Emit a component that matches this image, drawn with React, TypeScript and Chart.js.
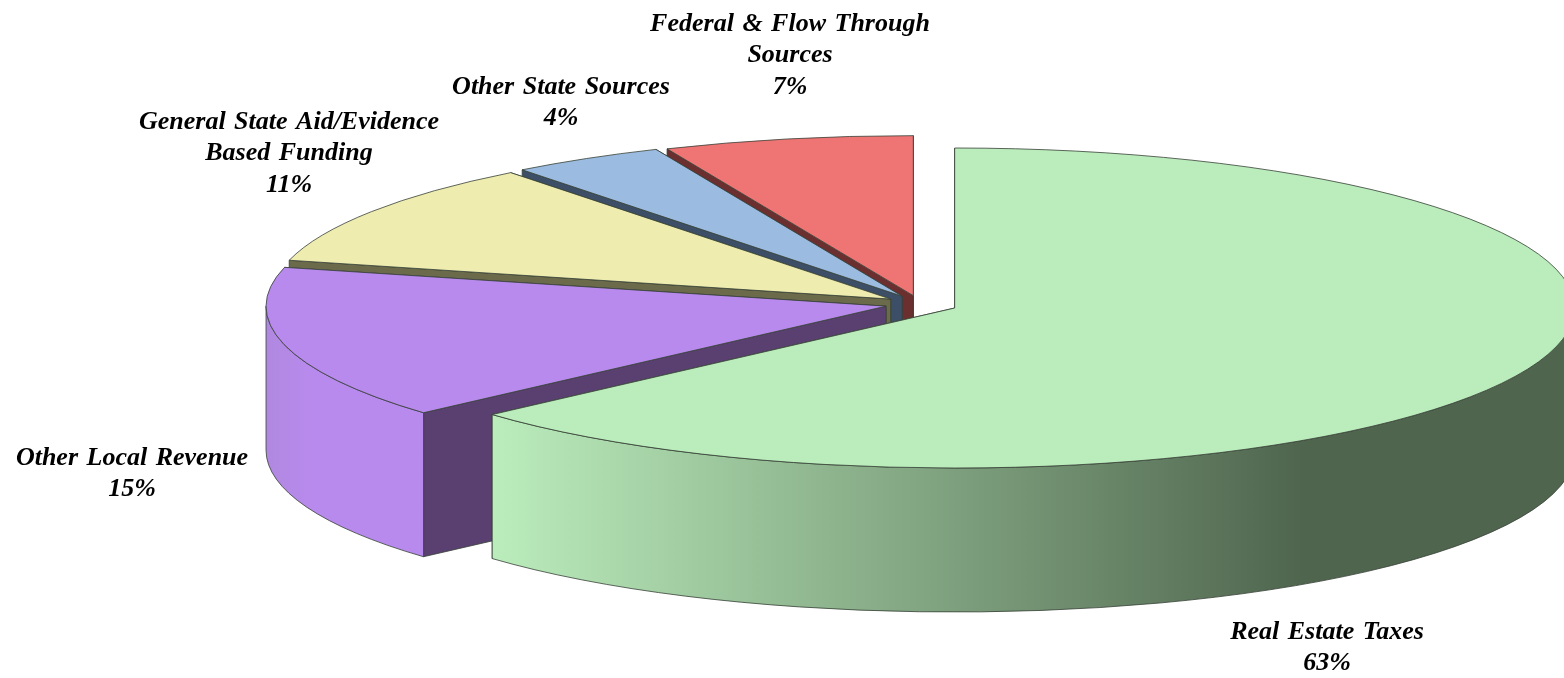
import React, { useEffect, useRef } from "react";
import { Chart, registerables } from "chart.js";

Chart.register(...registerables);

const categories = ["Real Estate Taxes", "Other Local Revenue", "General State Aid/Evidence Based Funding", "Other State Sources", "Federal & Flow Through Sources"];
const values = [63.4, 15.5, 10.6, 4, 6.5];
const printedPercents = ["63%", "15%", "11%", "4%", "7%"];
const topColors = ["#bbedbc", "#b88aed", "#eeecaf", "#9bbce0", "#ef7575"];
const sideColors = ["#4f654e", "#5a4070", "#6b6a4a", "#3d4f66", "#6b2f2f"];
const labelLines = [["Real Estate Taxes"], ["Other Local Revenue"], ["General State Aid/Evidence", "Based Funding"], ["Other State Sources"], ["Federal & Flow Through", "Sources"]];
const labelAnchors = [[1327, 632], [132, 458], [289, 122], [561, 87], [790, 24]];

const CX = 920, CY = 304, RX = 620, RY = 160, DEPTH = 144;
const EXPLODE = [38, 35, 35, 35, 33];
const OUTLINE = "rgba(55,65,55,0.8)";

const pie3d = {
  id: "pie3d",
  beforeDatasetDraw(chart: any) {
    const ctx = chart.ctx;
    const arcs = chart.getDatasetMeta(0).data;
    const order = [4, 3, 2, 1, 0];
    for (const i of order) {
      const el = arcs[i];
      const sx = RX / el.outerRadius, sy = RY / el.outerRadius;
      const a0 = el.startAngle, a1 = el.endAngle, mid = (a0 + a1) / 2;
      const vx = CX + Math.cos(mid) * EXPLODE[i];
      const vy = CY + Math.sin(mid) * EXPLODE[i] * (RY / RX);
      const px = (a: number) => vx + Math.cos(a) * RX;
      const py = (a: number) => vy + Math.sin(a) * RY;
      ctx.save();
      ctx.lineWidth = 1;
      ctx.strokeStyle = OUTLINE;
      // cut faces: the hidden one first, the one facing the viewer on top of it
      for (const a of [a1, a0]) {
        ctx.beginPath();
        ctx.moveTo(vx, vy);
        ctx.lineTo(px(a), py(a));
        ctx.lineTo(px(a), py(a) + DEPTH);
        ctx.lineTo(vx, vy + DEPTH);
        ctx.closePath();
        ctx.fillStyle = sideColors[i];
        ctx.fill();
        ctx.stroke();
      }
      // outer wall, front half only
      const w0 = Math.max(a0, 0), w1 = Math.min(a1, Math.PI);
      if (w1 > w0) {
        ctx.beginPath();
        ctx.ellipse(vx, vy, RX, RY, 0, w0, w1, false);
        ctx.ellipse(vx, vy + DEPTH, RX, RY, 0, w1, w0, true);
        ctx.closePath();
        if (i === 0) {
          const g = ctx.createLinearGradient(px(a1), 0, px(0), 0);
          g.addColorStop(0, topColors[0]);
          g.addColorStop(0.75, sideColors[0]);
          g.addColorStop(1, sideColors[0]);
          ctx.fillStyle = g;
        } else {
          const g = ctx.createLinearGradient(px(Math.PI), 0, px(a0), 0);
          g.addColorStop(0, "#b088e0");
          g.addColorStop(0.3, topColors[i]);
          g.addColorStop(1, topColors[i]);
          ctx.fillStyle = g;
        }
        ctx.fill();
        ctx.stroke();
      }
      // top face through the library's own arc drawing
      ctx.save();
      ctx.translate(vx, vy);
      ctx.scale(sx, sy);
      ctx.translate(-el.x, -el.y);
      el.draw(ctx);
      ctx.restore();
      // outline
      ctx.beginPath();
      ctx.moveTo(vx, vy);
      ctx.ellipse(vx, vy, RX, RY, 0, a0, a1, false);
      ctx.closePath();
      ctx.stroke();
      ctx.restore();
    }
    return false;
  },
  afterDatasetsDraw(chart: any) {
    const ctx = chart.ctx;
    ctx.save();
    ctx.fillStyle = "#000";
    ctx.font = 'italic bold 26px "Liberation Serif"';
    (ctx as any).wordSpacing = "2px";
    ctx.textAlign = "center";
    ctx.textBaseline = "middle";
    labelLines.forEach((lines, i) => {
      const [x, y] = labelAnchors[i];
      [...lines, printedPercents[i]].forEach((t, k) => ctx.fillText(t, x, y + k * 31.5));
    });
    ctx.restore();
  },
};

export default function App() {
  const ref = useRef<HTMLCanvasElement>(null);
  useEffect(() => {
    const chart = new Chart(ref.current!, {
      type: "pie",
      data: { labels: categories, datasets: [{ data: values, backgroundColor: topColors, borderWidth: 0 }] },
      options: {
        animation: false,
        responsive: false,
        plugins: { legend: { display: false }, tooltip: { enabled: false } },
      },
      plugins: [pie3d],
    } as any);
    return () => chart.destroy();
  }, []);
  return (
    <div style={{ position: "absolute", left: 0, top: 0, width: 1564, height: 678, background: "#fff", overflow: "hidden" }}>
      <canvas ref={ref} width={1564} height={678} style={{ display: "block" }} />
    </div>
  );
}
